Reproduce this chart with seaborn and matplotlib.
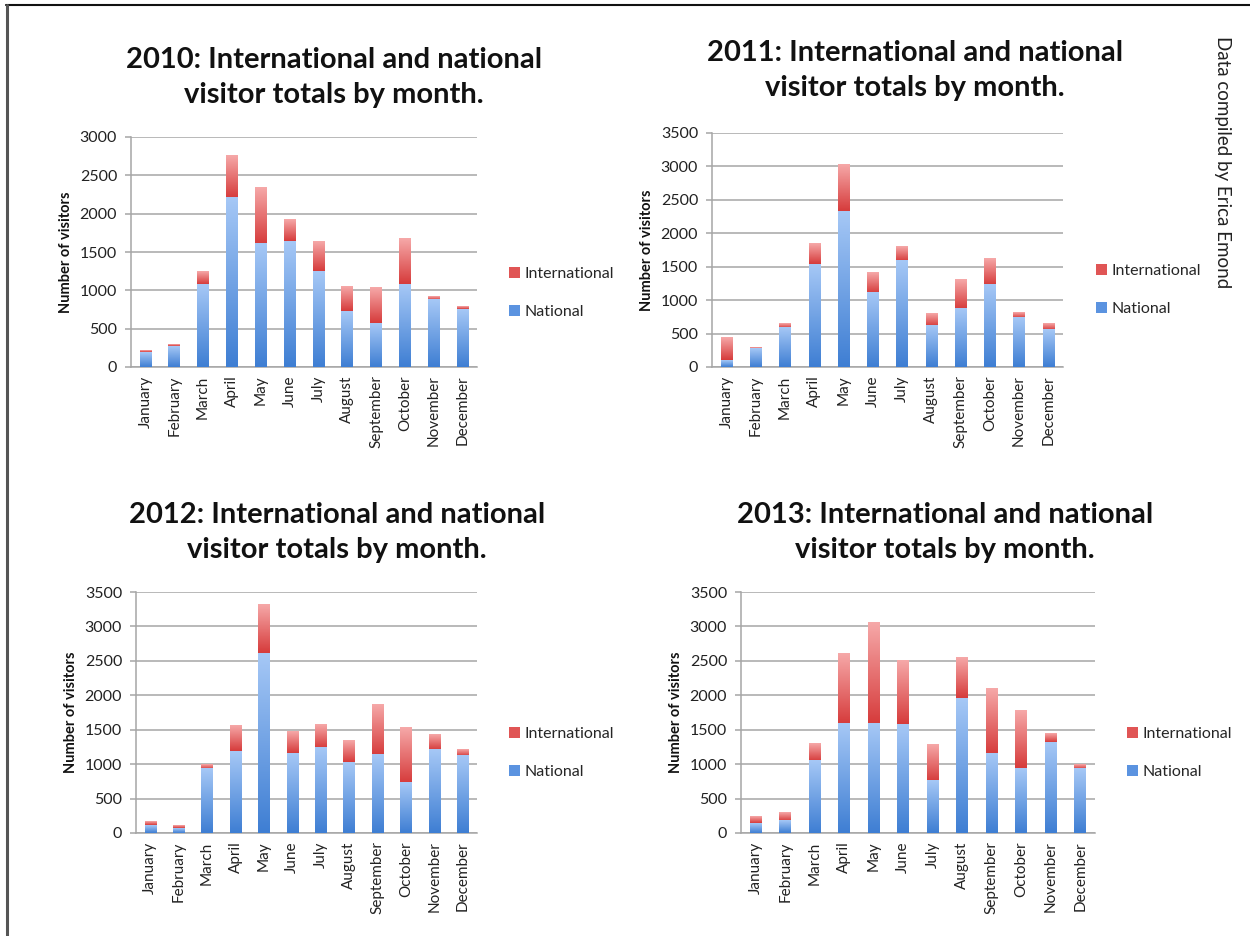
import numpy as np
import pandas as pd
import matplotlib
matplotlib.use("Agg")
import matplotlib.pyplot as plt
from matplotlib.colors import LinearSegmentedColormap
from matplotlib.patches import Patch
from matplotlib.lines import Line2D
import seaborn as sns

months = ["January", "February", "March", "April", "May", "June", "July",
          "August", "September", "October", "November", "December"]

national_2010 = [190, 270, 1080, 2210, 1610, 1640, 1250, 730, 570, 1080, 880, 750]
total_2010 = [215, 295, 1240, 2760, 2350, 1920, 1640, 1050, 1030, 1670, 920, 780]

national_2011 = [100, 270, 590, 1540, 2330, 1110, 1590, 620, 870, 1230, 740, 560]
total_2011 = [430, 295, 650, 1850, 3020, 1410, 1810, 810, 1310, 1620, 820, 650]

national_2012 = [110, 70, 930, 1190, 2610, 1160, 1240, 1030, 1140, 730, 1210, 1120]
total_2012 = [165, 100, 1000, 1560, 3310, 1470, 1580, 1340, 1870, 1530, 1430, 1220]

national_2013 = [140, 180, 1050, 1590, 1590, 1580, 760, 1960, 1150, 940, 1320, 930]
total_2013 = [240, 310, 1310, 2610, 3070, 2500, 1290, 2550, 2100, 1780, 1440, 1000]

years = ["2010", "2011", "2012", "2013"]
nationals = [national_2010, national_2011, national_2012, national_2013]
totals = [total_2010, total_2011, total_2012, total_2013]
ymax = [3000, 3500, 3500, 3500]

sns.set_theme(style="white")
plt.rcParams["font.family"] = ["Lato", "DejaVu Sans"]

W, H = 1250, 936
fig = plt.figure(figsize=(W / 100, H / 100), dpi=100)

# axes rectangles in pixel coords: left, top, right, bottom
rects = [(131, 137, 477, 367), (712, 133, 1063, 367),
         (136, 592, 477, 833), (741, 592, 1095, 833)]
titles_pos = [(334, 60), (915, 53), (337, 515), (945, 515)]
legend_x = [509, 1096, 509, 1127]
legend_yc = [293, 290, 753, 753]

blue_cmap = LinearSegmentedColormap.from_list("b", ["#3E7ED3", "#A6C8F6"])
red_cmap = LinearSegmentedColormap.from_list("r", ["#D63B3B", "#F6A9A9"])
grad = np.linspace(0, 1, 256).reshape(-1, 1)

grid_c = "#A6A6A6"

for k in range(4):
    l, t, r, b = rects[k]
    ax = fig.add_axes([l / W, 1 - b / H, (r - l) / W, (b - t) / H])
    df = pd.DataFrame({"month": months, "national": nationals[k], "total": totals[k]})
    sns.barplot(data=df, x="month", y="total", order=months, color="#E05555",
                width=0.4, ax=ax, saturation=1)
    sns.barplot(data=df, x="month", y="national", order=months, color="#5B93E0",
                width=0.4, ax=ax, saturation=1)
    patches = list(ax.patches)
    for i, p in enumerate(patches):
        x0 = p.get_x()
        w = p.get_width()
        if i < 12:
            y0, y1 = nationals[k][i], totals[k][i]
            cmap = red_cmap
            z = 2
        else:
            y0, y1 = 0, nationals[k][i - 12]
            cmap = blue_cmap
            z = 3
        p.set_facecolor("none")
        p.set_edgecolor("none")
        if y1 > y0:
            ax.imshow(grad, extent=[x0, x0 + w, y0, y1], origin="lower",
                      aspect="auto", cmap=cmap, zorder=z, interpolation="bilinear")
    ax.set_xlim(-0.5, 11.5)
    ax.set_ylim(0, ymax[k])
    ax.set_yticks(np.arange(0, ymax[k] + 1, 500))
    ax.set_axisbelow(True)
    ax.yaxis.grid(True, color=grid_c, linewidth=1.1)
    ax.xaxis.grid(False)
    for s in ["top", "right"]:
        ax.spines[s].set_visible(False)
    for s in ["left", "bottom"]:
        ax.spines[s].set_color(grid_c)
        ax.spines[s].set_linewidth(1.1)
    ax.set_xticks(range(12))
    ax.set_xticklabels(months, rotation=90, fontsize=11, color="#222222")
    ax.set_xticks(np.arange(-0.5, 12, 1), minor=True)
    ax.tick_params(axis="x", which="major", length=0, pad=6)
    ax.tick_params(axis="x", which="minor", length=5, width=1.1, color=grid_c, direction="out")
    ax.tick_params(axis="y", which="major", length=4, width=1.1, color=grid_c,
                   direction="out", labelsize=11.5, labelcolor="#222222", pad=6, left=True)
    ax.set_xlabel("")
    ax.set_ylabel("Number of visitors", fontsize=10.5, fontweight="bold", color="#111111",
                  labelpad=5)
    handles = [Patch(facecolor="#E05555", edgecolor="none", label="International"),
               Patch(facecolor="#5B93E0", edgecolor="none", label="National")]
    ax.legend(handles=handles, loc="center left",
              bbox_to_anchor=((legend_x[k] - l) / (r - l), (b - legend_yc[k]) / (b - t)),
              frameon=False, fontsize=11.5, handlelength=0.7, handleheight=0.7,
              handletextpad=0.3, labelspacing=1.45, borderaxespad=0, borderpad=0)
    tx, ty = titles_pos[k]
    fig.text(tx / W, 1 - ty / H, f"{years[k]}: International and national",
             ha="center", va="center", fontsize=21, fontweight="bold", color="#111111")
    fig.text(tx / W, 1 - (ty + 35) / H, "visitor totals by month.",
             ha="center", va="center", fontsize=21, fontweight="bold", color="#111111")

fig.text(1222 / W, 1 - 162 / H, "Data compiled by Erica Emond", rotation=-90,
         ha="center", va="center", fontsize=13.5, color="#222222")

# frame lines (top and left)
fig.add_artist(Line2D([6 / W, 1.0], [1 - 5 / H, 1 - 5 / H], color="#111111", linewidth=1.5,
                      transform=fig.transFigure))
fig.add_artist(Line2D([7 / W, 7 / W], [0, 1 - 5 / H], color="#555555", linewidth=2.2,
                      transform=fig.transFigure))

fig.savefig("out.png", dpi=100, facecolor="white")
